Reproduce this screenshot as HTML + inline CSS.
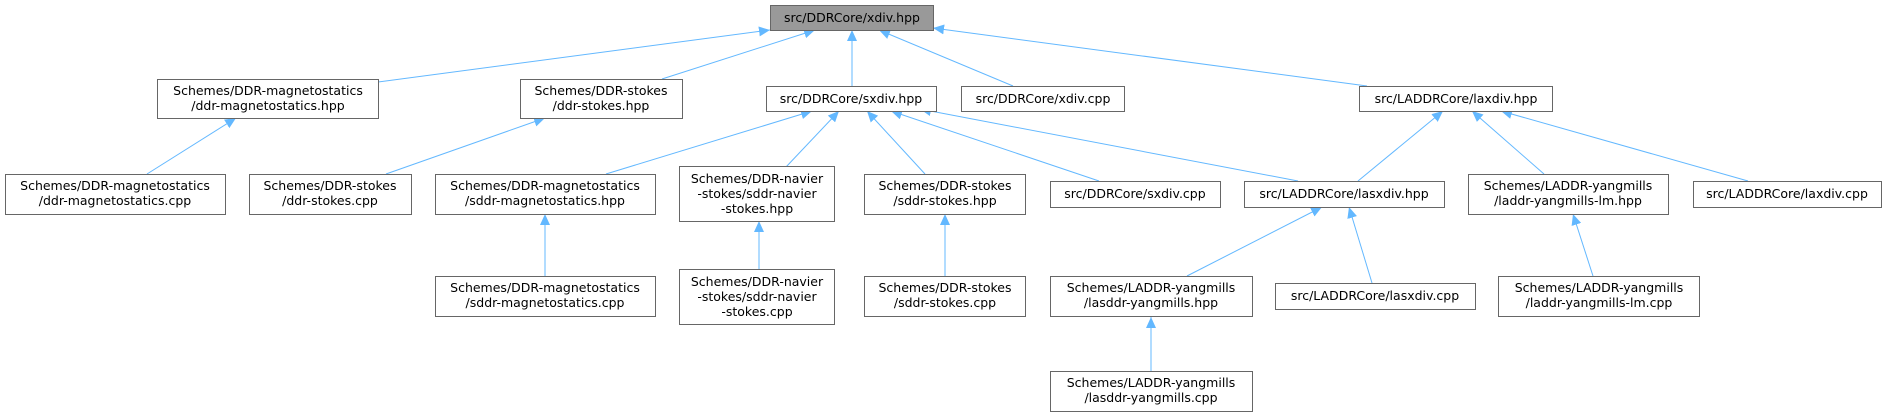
<!DOCTYPE html>
<html><head><meta charset="utf-8"><style>
html,body{margin:0;padding:0;background:#fff;}
svg{display:block;}
text{font-family:"DejaVu Sans","Liberation Sans",sans-serif;font-size:12.5px;fill:#000;text-anchor:middle;}
rect{fill:#fff;stroke:#666;stroke-width:1;}
line{stroke:#63b8ff;stroke-width:1;}
</style></head><body>
<svg width="1885" height="417" viewBox="0 0 1885 417" xmlns="http://www.w3.org/2000/svg">
<defs>
<marker id="a" markerUnits="userSpaceOnUse" markerWidth="12" markerHeight="10" refX="11" refY="5" orient="auto">
<path d="M0,0 L11,5 L0,10 Z" fill="#63b8ff"/>
</marker>
</defs>
<g marker-end="url(#a)">
<line x1="378" y1="82" x2="770" y2="30"/>
<line x1="662" y1="79" x2="815" y2="30"/>
<line x1="852" y1="86" x2="852" y2="30"/>
<line x1="1013" y1="86" x2="879" y2="30"/>
<line x1="1367" y1="86" x2="933" y2="28"/>
<line x1="147" y1="174" x2="236" y2="118"/>
<line x1="386" y1="174" x2="545" y2="118"/>
<line x1="606" y1="174" x2="812" y2="111"/>
<line x1="786" y1="167" x2="839" y2="111"/>
<line x1="925" y1="174" x2="867" y2="111"/>
<line x1="1099" y1="181" x2="891" y2="111"/>
<line x1="1298" y1="181" x2="920" y2="109"/>
<line x1="545" y1="276" x2="545" y2="214"/>
<line x1="759" y1="269" x2="759" y2="221"/>
<line x1="945" y1="276" x2="945" y2="214"/>
<line x1="1358" y1="181" x2="1443" y2="111"/>
<line x1="1544" y1="174" x2="1472" y2="111"/>
<line x1="1748" y1="181" x2="1501" y2="111"/>
<line x1="1187" y1="276" x2="1322" y2="207"/>
<line x1="1372" y1="283" x2="1349" y2="207"/>
<line x1="1593" y1="276" x2="1573" y2="214"/>
<line x1="1151" y1="371" x2="1151" y2="317"/>
</g>
<rect x="770.5" y="5.5" width="163" height="25" style="fill:#999"/>
<text x="852" y="22">src/DDRCore/xdiv.hpp</text>

<rect x="157.5" y="79.5" width="221" height="39"/>
<text x="268" y="95">Schemes/DDR-magnetostatics</text><text x="268" y="110">/ddr-magnetostatics.hpp</text>

<rect x="520.5" y="79.5" width="162" height="39"/>
<text x="601" y="95">Schemes/DDR-stokes</text><text x="601" y="110">/ddr-stokes.hpp</text>

<rect x="766.5" y="86.5" width="170" height="25"/>
<text x="851" y="103">src/DDRCore/sxdiv.hpp</text>

<rect x="961.5" y="86.5" width="163" height="25"/>
<text x="1043" y="103">src/DDRCore/xdiv.cpp</text>

<rect x="1359.5" y="86.5" width="193" height="25"/>
<text x="1456" y="103">src/LADDRCore/laxdiv.hpp</text>

<rect x="5.5" y="174.5" width="220" height="40"/>
<text x="115" y="190">Schemes/DDR-magnetostatics</text><text x="115" y="205">/ddr-magnetostatics.cpp</text>

<rect x="249.5" y="174.5" width="162" height="40"/>
<text x="330" y="190">Schemes/DDR-stokes</text><text x="330" y="205">/ddr-stokes.cpp</text>

<rect x="435.5" y="174.5" width="220" height="40"/>
<text x="545" y="190">Schemes/DDR-magnetostatics</text><text x="545" y="205">/sddr-magnetostatics.hpp</text>

<rect x="679.5" y="166.5" width="155" height="55"/>
<text x="757" y="183">Schemes/DDR-navier</text><text x="757" y="198">-stokes/sddr-navier</text><text x="757" y="213">-stokes.hpp</text>

<rect x="864.5" y="174.5" width="161" height="40"/>
<text x="945" y="190">Schemes/DDR-stokes</text><text x="945" y="205">/sddr-stokes.hpp</text>

<rect x="1050.5" y="181.5" width="170" height="26"/>
<text x="1135" y="198">src/DDRCore/sxdiv.cpp</text>

<rect x="1244.5" y="181.5" width="200" height="26"/>
<text x="1344" y="198">src/LADDRCore/lasxdiv.hpp</text>

<rect x="1468.5" y="174.5" width="200" height="40"/>
<text x="1568" y="190">Schemes/LADDR-yangmills</text><text x="1568" y="205">/laddr-yangmills-lm.hpp</text>

<rect x="1693.5" y="181.5" width="188" height="26"/>
<text x="1787" y="198">src/LADDRCore/laxdiv.cpp</text>

<rect x="435.5" y="276.5" width="220" height="40"/>
<text x="545" y="292">Schemes/DDR-magnetostatics</text><text x="545" y="307">/sddr-magnetostatics.cpp</text>

<rect x="679.5" y="269.5" width="155" height="55"/>
<text x="757" y="286">Schemes/DDR-navier</text><text x="757" y="301">-stokes/sddr-navier</text><text x="757" y="316">-stokes.cpp</text>

<rect x="864.5" y="276.5" width="161" height="40"/>
<text x="945" y="292">Schemes/DDR-stokes</text><text x="945" y="307">/sddr-stokes.cpp</text>

<rect x="1050.5" y="276.5" width="202" height="40"/>
<text x="1151" y="292">Schemes/LADDR-yangmills</text><text x="1151" y="307">/lasddr-yangmills.hpp</text>

<rect x="1275.5" y="283.5" width="200" height="26"/>
<text x="1375" y="300">src/LADDRCore/lasxdiv.cpp</text>

<rect x="1498.5" y="276.5" width="201" height="40"/>
<text x="1599" y="292">Schemes/LADDR-yangmills</text><text x="1599" y="307">/laddr-yangmills-lm.cpp</text>

<rect x="1050.5" y="371.5" width="202" height="40"/>
<text x="1151" y="387">Schemes/LADDR-yangmills</text><text x="1151" y="402">/lasddr-yangmills.cpp</text>
</svg>
</body></html>
